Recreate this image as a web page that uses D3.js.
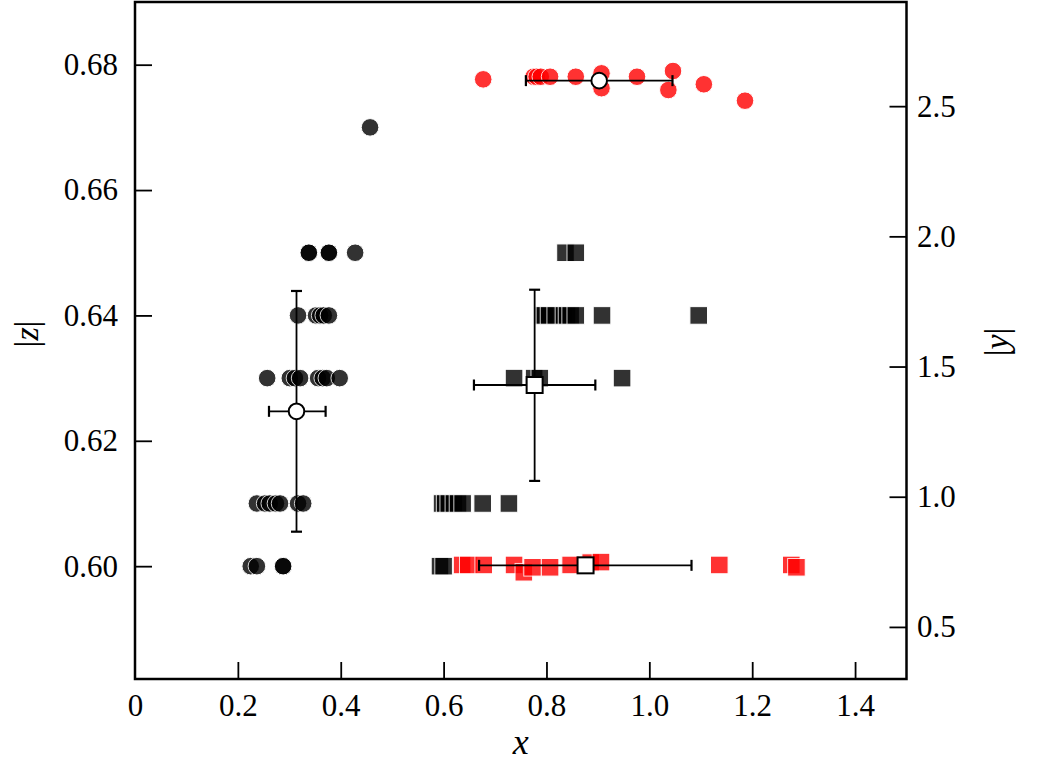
<!DOCTYPE html>
<html><head><meta charset="utf-8">
<script src="https://cdn.jsdelivr.net/npm/d3@7"></script>
<style>body{margin:0;background:#fff}svg{display:block}text{font-family:"Liberation Serif","Times New Roman",Times,serif}</style>
</head><body>
<script>
// ---- data ----
const xTicks = [0, 0.2, 0.4, 0.6, 0.8, 1.0, 1.2, 1.4];
const zTicks = [0.60, 0.62, 0.64, 0.66, 0.68];
const yTicks = [0.5, 1.0, 1.5, 2.0, 2.5];

// black circles (left axis |z|)
const blackCircleX = [0.457,
  0.338, 0.338, 0.377, 0.377, 0.428,
  0.317, 0.352, 0.360, 0.367, 0.377,
  0.257, 0.301, 0.311, 0.321, 0.356, 0.365, 0.373, 0.398,
  0.237, 0.253, 0.262, 0.274, 0.282, 0.317, 0.327,
  0.225, 0.237, 0.288, 0.288];
const blackCircleZ = [0.67,
  0.65, 0.65, 0.65, 0.65, 0.65,
  0.64, 0.64, 0.64, 0.64, 0.64,
  0.63, 0.63, 0.63, 0.63, 0.63, 0.63, 0.63, 0.63,
  0.61, 0.61, 0.61, 0.61, 0.61, 0.61, 0.61,
  0.60, 0.60, 0.60, 0.60];

// black squares (left axis |z|)
const blackSquareX = [0.837, 0.857,
  0.795, 0.797, 0.805, 0.818, 0.834, 0.840, 0.847, 0.857, 0.908, 1.096,
  0.737, 0.776, 0.787, 0.947,
  0.597, 0.603, 0.610, 0.620, 0.628, 0.637, 0.676, 0.727,
  0.593, 0.600];
const blackSquareZ = [0.65, 0.65,
  0.64, 0.64, 0.64, 0.64, 0.64, 0.64, 0.64, 0.64, 0.64, 0.64,
  0.63, 0.63, 0.63, 0.63,
  0.61, 0.61, 0.61, 0.61, 0.61, 0.61, 0.61, 0.61,
  0.60, 0.60];

// red circles (right axis |y|)
const redCircleX = [0.677, 0.775, 0.781, 0.789, 0.807, 0.857, 0.907, 0.907, 0.976, 1.046, 1.037, 1.106, 1.186];
const redCircleY = [2.603, 2.613, 2.613, 2.613, 2.613, 2.613, 2.626, 2.569, 2.613, 2.635, 2.562, 2.584, 2.521];

// red squares (right axis |y|)
const redSquareX = [0.636, 0.648, 0.678, 0.737, 0.756, 0.773, 0.807, 0.847, 0.886, 0.906, 1.136, 1.276, 1.286];
const redSquareY = [0.738, 0.738, 0.738, 0.738, 0.710, 0.729, 0.729, 0.738, 0.747, 0.749, 0.738, 0.738, 0.729];

// means with error bars
const meanBlackCircle = {x: 0.314, v: 0.6247, xlo: 0.2605, xhi: 0.3706, vlo: 0.6055, vhi: 0.6439};
const meanBlackSquare = {x: 0.777, v: 0.6289, xlo: 0.659, xhi: 0.895, vlo: 0.6136, vhi: 0.6441};
const meanRedCircle = {x: 0.9025, v: 2.598, xlo: 0.760, xhi: 1.045};
const meanRedSquare = {x: 0.876, v: 0.7365, xlo: 0.669, xhi: 1.082};

// ---- drawing ----
const W = 1042, H = 767;
const L = 135, R = 906.5, T = 2, B = 679;
const svg = d3.select("body").append("svg").attr("width", W).attr("height", H);
const x = d3.scaleLinear([0, 1.5], [L, R]);
const yL = d3.scaleLinear([0.582, 0.69], [B, T]);
const yR = d3.scaleLinear([0.3, 2.9], [B, T]);
const font = "Liberation Serif, Times New Roman, Times, serif";

const plot = svg.append("g");
const r = 8.8, s = 17.6;

function circles(xs, vs, scale, color) {
  plot.append("g").selectAll("circle").data(xs).join("circle")
    .attr("cx", d => x(d)).attr("cy", (d, i) => scale(vs[i])).attr("r", r)
    .attr("fill", color).attr("stroke", "#fff").attr("stroke-width", 1)
    .attr("opacity", 0.8);
}
function squares(xs, vs, scale, color) {
  plot.append("g").selectAll("rect").data(xs).join("rect")
    .attr("x", d => x(d) - s / 2).attr("y", (d, i) => scale(vs[i]) - s / 2)
    .attr("width", s).attr("height", s)
    .attr("fill", color).attr("stroke", "#fff").attr("stroke-width", 1)
    .attr("opacity", 0.8);
}
circles(blackCircleX, blackCircleZ, yL, "#000");
squares(blackSquareX, blackSquareZ, yL, "#000");
circles(redCircleX, redCircleY, yR, "#f00");
squares(redSquareX, redSquareY, yR, "#f00");

function errbar(m, scale, shape) {
  const g = plot.append("g").attr("stroke", "#000").attr("stroke-width", 1.8);
  const cx = x(m.x), cy = scale(m.v), cap = 5.5;
  g.append("line").attr("x1", x(m.xlo)).attr("x2", x(m.xhi)).attr("y1", cy).attr("y2", cy);
  g.append("line").attr("x1", x(m.xlo)).attr("x2", x(m.xlo)).attr("y1", cy - cap).attr("y2", cy + cap).attr("stroke-width", 2.2);
  g.append("line").attr("x1", x(m.xhi)).attr("x2", x(m.xhi)).attr("y1", cy - cap).attr("y2", cy + cap).attr("stroke-width", 2.2);
  if (m.vlo !== undefined) {
    g.append("line").attr("x1", cx).attr("x2", cx).attr("y1", scale(m.vlo)).attr("y2", scale(m.vhi));
    g.append("line").attr("x1", cx - cap).attr("x2", cx + cap).attr("y1", scale(m.vlo)).attr("y2", scale(m.vlo)).attr("stroke-width", 2.2);
    g.append("line").attr("x1", cx - cap).attr("x2", cx + cap).attr("y1", scale(m.vhi)).attr("y2", scale(m.vhi)).attr("stroke-width", 2.2);
  }
  if (shape === "circle") {
    g.append("circle").attr("cx", cx).attr("cy", cy).attr("r", 7.8).attr("fill", "#fff").attr("stroke-width", 2);
  } else {
    g.append("rect").attr("x", cx - 8).attr("y", cy - 8).attr("width", 16).attr("height", 16).attr("fill", "#fff").attr("stroke-width", 2);
  }
}
errbar(meanBlackCircle, yL, "circle");
errbar(meanBlackSquare, yL, "square");
errbar(meanRedCircle, yR, "circle");
errbar(meanRedSquare, yR, "square");

// axes
const tl = 17;
const xAxis = d3.axisBottom(x).tickValues(xTicks).tickSizeInner(-tl).tickSizeOuter(0).tickPadding(15)
  .tickFormat(d => d === 0 ? "0" : d3.format(".1f")(d));
const gx = svg.append("g").attr("transform", `translate(0,${B})`).call(xAxis);
const yAxisL = d3.axisLeft(yL).tickValues(zTicks).tickSizeInner(-tl).tickSizeOuter(0).tickPadding(17)
  .tickFormat(d3.format(".2f"));
const gl = svg.append("g").attr("transform", `translate(${L},0)`).call(yAxisL);
const yAxisR = d3.axisRight(yR).tickValues(yTicks).tickSizeInner(-tl).tickSizeOuter(0).tickPadding(10.5)
  .tickFormat(d3.format(".1f"));
const gr = svg.append("g").attr("transform", `translate(${R},0)`).call(yAxisR);
[gx, gl, gr].forEach(g => {
  g.attr("font-family", null).attr("font-size", null);
  g.select(".domain").remove();
  g.selectAll(".tick line").attr("stroke", "#000").attr("stroke-width", 1.8);
  g.selectAll(".tick text").style("font-family", font).style("font-size", "31px").attr("fill", "#000");
});
gx.selectAll(".tick").filter(d => d === 0).select("line").remove();

svg.append("rect").attr("x", L).attr("y", T).attr("width", R - L).attr("height", B - T)
  .attr("fill", "none").attr("stroke", "#000").attr("stroke-width", 2.5);

// axis labels
svg.append("text").attr("x", (L + R) / 2).attr("y", 754).attr("text-anchor", "middle")
  .style("font-family", font).style("font-size", "36px").attr("font-style", "italic").text("x");
function vlabel(cx, cy, letter) {
  const t = svg.append("text").attr("transform", `translate(${cx},${cy}) rotate(-90)`)
    .attr("text-anchor", "middle").attr("dominant-baseline", "central")
    .style("font-family", font).style("font-size", "34px");
  t.append("tspan").text("|");
  t.append("tspan").attr("font-style", "italic").text(letter);
  t.append("tspan").text("|");
}
vlabel(26, 334, "z");
vlabel(996, 342, "y");
</script>
</body></html>
